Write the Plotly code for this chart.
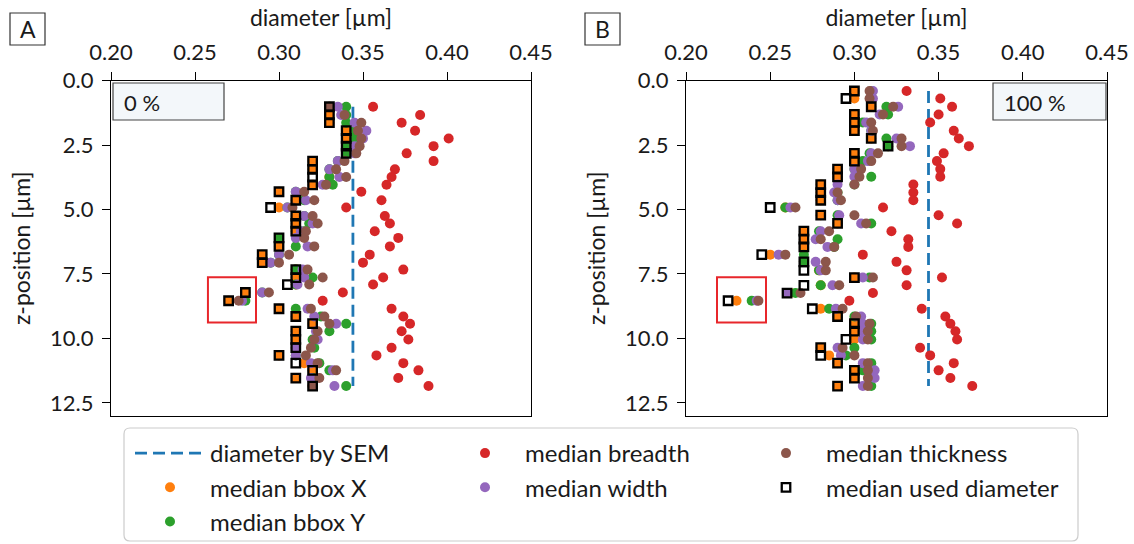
import plotly.graph_objects as go

# ---------------------------------------------------------------------------
# Slice-wise median diameters along the fibre (all values in µm)
# ---------------------------------------------------------------------------

# Panel A (0 %)
z_a = [1.01, 1.33, 1.63, 1.94, 2.24, 2.54, 2.82, 3.12, 3.44, 3.74, 4.04, 4.31,
       4.64, 4.92, 5.25, 5.54, 5.84, 6.10, 6.43, 6.75, 7.06, 7.33, 7.64, 7.91,
       8.22, 8.54, 8.85, 9.15, 9.43, 9.72, 10.04, 10.36, 10.66, 10.96, 11.24,
       11.54, 11.85]
bbox_x_a = [0.330, 0.330, 0.330, 0.340, 0.340, 0.340, 0.340, 0.320, 0.320, 0.330,
            0.320, 0.300, 0.310, 0.300, 0.310, 0.310, 0.310, 0.300, 0.300, 0.290,
            0.290, 0.310, 0.310, 0.310, 0.280, 0.270, 0.300, 0.310, 0.320, 0.310,
            0.310, 0.310, 0.300, 0.315, 0.320, 0.310, 0.320]
bbox_y_a = [0.340, 0.340, 0.340, 0.345, 0.345, 0.340, 0.340, 0.335, 0.330, 0.330,
            0.332, 0.310, 0.315, 0.305, 0.315, 0.318, 0.315, 0.300, 0.310, 0.300,
            0.295, 0.310, 0.320, 0.310, 0.290, 0.280, 0.310, 0.325, 0.340, 0.330,
            0.320, 0.321, 0.310, 0.324, 0.330, 0.320, 0.340]
breadth_a = [0.356, 0.384, 0.373, 0.381, 0.401, 0.392, 0.376, 0.392, 0.369, 0.367,
             0.364, 0.349, 0.361, 0.340, 0.363, 0.366, 0.357, 0.371, 0.366, 0.354,
             0.350, 0.374, 0.362, 0.356, 0.338, 0.326, 0.367, 0.374, 0.378, 0.373,
             0.377, 0.367, 0.358, 0.374, 0.383, 0.371, 0.389]
width_a = [0.335, 0.337, 0.345, 0.352, 0.350, 0.345, 0.345, 0.335, 0.330, 0.336,
           0.326, 0.310, 0.316, 0.305, 0.315, 0.320, 0.313, 0.310, 0.317, 0.300,
           0.295, 0.314, 0.315, 0.311, 0.290, 0.278, 0.317, 0.321, 0.334, 0.322,
           0.323, 0.310, 0.310, 0.319, 0.332, 0.319, 0.333]
thickness_a = [0.330, 0.339, 0.349, 0.347, 0.349, 0.348, 0.346, 0.339, 0.334, 0.340,
               0.328, 0.315, 0.321, 0.308, 0.320, 0.323, 0.316, 0.315, 0.321, 0.306,
               0.300, 0.317, 0.326, 0.318, 0.294, 0.276, 0.319, 0.327, 0.330, 0.323,
               0.321, 0.319, 0.316, 0.323, 0.334, 0.324, 0.320]
used_a = [0.330, 0.330, 0.330, 0.340, 0.340, 0.340, 0.340, 0.320, 0.320, 0.320,
          0.320, 0.300, 0.310, 0.295, 0.310, 0.310, 0.310, 0.300, 0.300, 0.290,
          0.290, 0.310, 0.310, 0.305, 0.280, 0.270, 0.300, 0.310, 0.320, 0.310,
          0.310, 0.310, 0.300, 0.310, 0.320, 0.310, 0.320]

# Panel B (100 %)
z_b = [0.40, 0.69, 1.01, 1.31, 1.62, 1.94, 2.24, 2.54, 2.82, 3.12, 3.43, 3.73,
       4.03, 4.34, 4.64, 4.92, 5.22, 5.54, 5.84, 6.15, 6.45, 6.75, 7.03, 7.36,
       7.64, 7.94, 8.24, 8.54, 8.85, 9.15, 9.43, 9.72, 10.04, 10.36, 10.66,
       10.96, 11.24, 11.54, 11.85]
bbox_x_b = [0.300, 0.300, 0.310, 0.300, 0.300, 0.300, 0.310, 0.320, 0.300, 0.300,
            0.290, 0.290, 0.280, 0.280, 0.280, 0.259, 0.280, 0.290, 0.270, 0.270,
            0.270, 0.250, 0.270, 0.279, 0.300, 0.280, 0.262, 0.230, 0.280, 0.290,
            0.300, 0.300, 0.300, 0.280, 0.285, 0.290, 0.300, 0.300, 0.290]
bbox_y_b = [0.310, 0.310, 0.319, 0.320, 0.305, 0.310, 0.319, 0.320, 0.309, 0.305,
            0.300, 0.310, 0.300, 0.290, 0.290, 0.259, 0.290, 0.310, 0.279, 0.290,
            0.288, 0.270, 0.270, 0.279, 0.309, 0.280, 0.265, 0.239, 0.285, 0.300,
            0.310, 0.310, 0.310, 0.300, 0.295, 0.310, 0.305, 0.310, 0.310]
breadth_b = [0.331, 0.351, 0.358, 0.350, 0.345, 0.359, 0.362, 0.368, 0.353, 0.349,
             0.351, 0.351, 0.335, 0.335, 0.335, 0.317, 0.350, 0.361, 0.322, 0.332,
             0.332, 0.305, 0.325, 0.331, 0.352, 0.331, 0.311, 0.297, 0.340, 0.354,
             0.357, 0.360, 0.361, 0.339, 0.345, 0.359, 0.350, 0.357, 0.370]
width_b = [0.311, 0.311, 0.326, 0.315, 0.307, 0.310, 0.325, 0.333, 0.310, 0.308,
           0.300, 0.300, 0.290, 0.288, 0.290, 0.262, 0.291, 0.304, 0.280, 0.277,
           0.284, 0.255, 0.277, 0.280, 0.305, 0.287, 0.260, 0.242, 0.289, 0.304,
           0.305, 0.305, 0.305, 0.290, 0.292, 0.305, 0.312, 0.312, 0.305]
thickness_b = [0.309, 0.309, 0.323, 0.317, 0.310, 0.311, 0.328, 0.328, 0.314, 0.310,
               0.304, 0.303, 0.300, 0.290, 0.292, 0.265, 0.300, 0.307, 0.285, 0.280,
               0.288, 0.259, 0.283, 0.283, 0.311, 0.291, 0.268, 0.243, 0.293, 0.301,
               0.309, 0.308, 0.308, 0.293, 0.300, 0.308, 0.308, 0.308, 0.308]
used_b = [0.300, 0.295, 0.310, 0.300, 0.300, 0.300, 0.310, 0.320, 0.300, 0.300,
          0.290, 0.290, 0.280, 0.280, 0.280, 0.250, 0.280, 0.290, 0.270, 0.270,
          0.270, 0.245, 0.270, 0.270, 0.300, 0.270, 0.260, 0.225, 0.275, 0.290,
          0.300, 0.300, 0.295, 0.280, 0.280, 0.290, 0.300, 0.300, 0.290]

# Reference diameter measured by SEM
sem_diameter = 0.344

# Axis ticks and limits
x_ticks = [0.20, 0.25, 0.30, 0.35, 0.40, 0.45]
y_ticks = [0.0, 2.5, 5.0, 7.5, 10.0, 12.5]
x_limits = [0.20, 0.45]
z_limits = [13.0, 0.0]

# Highlighted slice windows (diameter range, z range)
highlight_a = ([0.2577, 0.2863], [7.63, 9.38])
highlight_b = ([0.2184, 0.2475], [7.63, 9.38])

panel_labels = ["A", "B"]
state_labels = ["0 %", "100 %"]

# ---------------------------------------------------------------------------
W, H = 1134, 544
FONT = "Lato"
TXT = "#1a1a1a"


def fx(px):
    return px / W


def fy(py):
    return 1 - py / H


C_SEM = "#1f77b4"
C_BX = "#ff7f0e"
C_BY = "#2ca02c"
C_BR = "#d62728"
C_WI = "#9467bd"
C_TH = "#8c564b"

fig = go.Figure()

panels = [
    ("x", "y", z_a, bbox_x_a, bbox_y_a, breadth_a, width_a, thickness_a, used_a),
    ("x2", "y2", z_b, bbox_x_b, bbox_y_b, breadth_b, width_b, thickness_b, used_b),
]

DOT = 10
for i, (xr, yr, z, bx, by, br, wi, th, us) in enumerate(panels):
    first = i == 0
    z_span = [min(z), max(z)]
    fig.add_trace(go.Scatter(
        x=[sem_diameter, sem_diameter], y=z_span, mode="lines",
        line=dict(color=C_SEM, width=2.8, dash="12px,6px"),
        name="diameter by SEM", legend="legend", legendgroup="sem",
        showlegend=first, xaxis=xr, yaxis=yr))
    series = [
        (bx, C_BX, "median bbox X", "legend", "bx"),
        (by, C_BY, "median bbox Y", "legend", "by"),
        (br, C_BR, "median breadth", "legend2", "br"),
        (wi, C_WI, "median width", "legend2", "wi"),
        (th, C_TH, "median thickness", "legend3", "th"),
    ]
    for vals, col, name, leg, grp in series:
        fig.add_trace(go.Scatter(
            x=vals, y=z, mode="markers",
            marker=dict(color=col, size=DOT, symbol="circle", line=dict(width=0)),
            name=name, legend=leg, legendgroup=grp, showlegend=first,
            xaxis=xr, yaxis=yr))
    fig.add_trace(go.Scatter(
        x=us, y=z, mode="markers",
        marker=dict(symbol="square-open", size=8.5, color="black",
                    line=dict(width=2.3, color="black")),
        name="median used diameter", legend="legend3", legendgroup="us",
        showlegend=first, xaxis=xr, yaxis=yr))

tick_font = dict(family=FONT, size=22, color=TXT)
title_font = dict(family=FONT, size=23, color=TXT)

x_common = dict(
    range=x_limits, tickvals=x_ticks, ticktext=[f"{v:.2f}" for v in x_ticks],
    side="top", ticks="outside", ticklen=8, tickwidth=1.3, tickcolor="black",
    showline=True, linewidth=1.3, linecolor="black", mirror=True,
    showgrid=False, zeroline=False, tickfont=tick_font, ticklabelstandoff=3,
    automargin=False,
    title=dict(text="diameter [µm]", font=title_font, standoff=4),
)
y_common = dict(
    range=z_limits, tickvals=y_ticks, ticktext=[f"{v:.1f}" for v in y_ticks],
    ticks="outside", ticklen=8, tickwidth=1.3, tickcolor="black",
    showline=True, linewidth=1.3, linecolor="black", mirror=True,
    showgrid=False, zeroline=False, tickfont=tick_font, ticklabelstandoff=4,
    automargin=False,
    title=dict(text="z-position [µm]", font=title_font, standoff=12),
)

y_dom = [fy(415.7), fy(80.7)]
fig.update_layout(
    width=W, height=H,
    margin=dict(l=0, r=0, t=0, b=0, pad=0, autoexpand=False),
    paper_bgcolor="white", plot_bgcolor="white",
    font=dict(family=FONT, color=TXT),
    xaxis=dict(domain=[fx(111), fx(531)], anchor="y", **x_common),
    yaxis=dict(domain=y_dom, anchor="x", **y_common),
    xaxis2=dict(domain=[fx(686), fx(1107)], anchor="y2", **x_common),
    yaxis2=dict(domain=y_dom, anchor="x2", **y_common),
)

legend_common = dict(
    orientation="v", xanchor="left", yanchor="top",
    bgcolor="rgba(0,0,0,0)", borderwidth=0,
    font=dict(family=FONT, size=24, color=TXT),
    tracegroupgap=0, itemwidth=70, itemclick=False, itemdoubleclick=False,
)
fig.update_layout(
    legend=dict(x=fx(130), y=fy(431), **legend_common),
    legend2=dict(x=fx(445), y=fy(431), **legend_common),
    legend3=dict(x=fx(746), y=fy(431), **legend_common),
)

shapes = []
# rounded legend frame
lx0, ly0, lx1, ly1, r = 124, 428, 1078, 541, 6
path = (f"M {fx(lx0 + r)},{fy(ly0)} L {fx(lx1 - r)},{fy(ly0)} "
        f"Q {fx(lx1)},{fy(ly0)} {fx(lx1)},{fy(ly0 + r)} "
        f"L {fx(lx1)},{fy(ly1 - r)} Q {fx(lx1)},{fy(ly1)} {fx(lx1 - r)},{fy(ly1)} "
        f"L {fx(lx0 + r)},{fy(ly1)} Q {fx(lx0)},{fy(ly1)} {fx(lx0)},{fy(ly1 - r)} "
        f"L {fx(lx0)},{fy(ly0 + r)} Q {fx(lx0)},{fy(ly0)} {fx(lx0 + r)},{fy(ly0)} Z")
shapes.append(dict(type="path", xref="paper", yref="paper", path=path,
                   line=dict(color="#cccccc", width=1.2), fillcolor="white",
                   layer="below"))

# panel letter boxes
for (x0, x1), label in zip([(10, 45), (585, 620)], panel_labels):
    shapes.append(dict(type="rect", xref="paper", yref="paper",
                       x0=fx(x0), x1=fx(x1), y0=fy(45), y1=fy(13),
                       line=dict(color="#333333", width=1.2), fillcolor="white"))
    fig.add_annotation(x=fx((x0 + x1) / 2), y=fy(29), xref="paper", yref="paper",
                       text=label, showarrow=False, xanchor="center", yanchor="middle",
                       font=dict(family=FONT, size=23, color=TXT))

# state boxes inside the panels
for (x0, x1), label in zip([(113, 224), (993, 1106)], state_labels):
    shapes.append(dict(type="rect", xref="paper", yref="paper",
                       x0=fx(x0), x1=fx(x1), y0=fy(120), y1=fy(83),
                       line=dict(color="#444444", width=1.2), fillcolor="#f3f7fa"))
    fig.add_annotation(x=fx(x0 + 9), y=fy(102), xref="paper", yref="paper",
                       text=label, showarrow=False, xanchor="left", yanchor="middle",
                       font=dict(family=FONT, size=22, color=TXT))

# highlighted outlier slices
for (xr, yr), (xs, zs) in zip([("x", "y"), ("x2", "y2")], [highlight_a, highlight_b]):
    shapes.append(dict(type="rect", xref=xr, yref=yr,
                       x0=xs[0], x1=xs[1], y0=zs[0], y1=zs[1],
                       line=dict(color="#e8262b", width=2), fillcolor="rgba(0,0,0,0)"))

fig.update_layout(shapes=shapes)

fig.write_html("out.html")
